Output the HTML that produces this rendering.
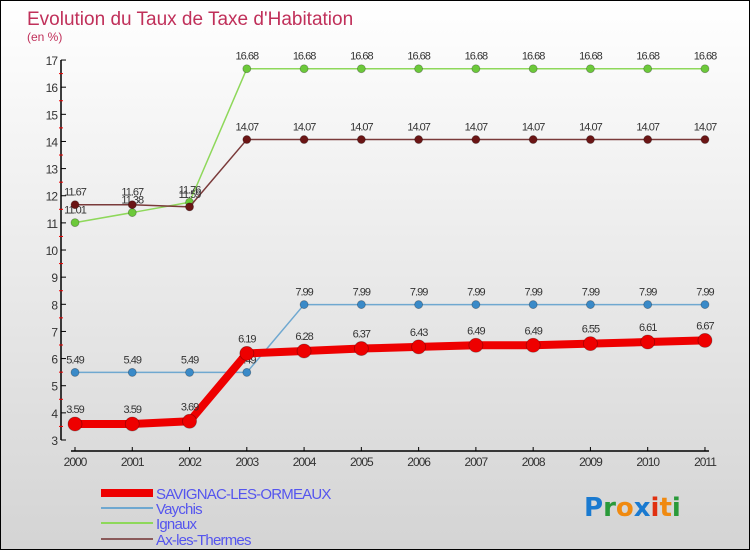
<!DOCTYPE html>
<html><head><meta charset="utf-8"><style>
html,body{margin:0;padding:0}
body{width:750px;height:550px;overflow:hidden;font-family:"Liberation Sans",sans-serif}
#wrap{position:relative;width:748px;height:548px;border:1px solid #000;background:linear-gradient(#ffffff,#d4d4d4)}
svg{position:absolute;left:0;top:0}
</style></head><body>
<div id="wrap">
<svg id="chart" width="748" height="548"></svg>
</div>
<script>
const years=["2000","2001","2002","2003","2004","2005","2006","2007","2008","2009","2010","2011"];
const savignac=[3.59,3.59,3.69,6.19,6.28,6.37,6.43,6.49,6.49,6.55,6.61,6.67];
const vaychis=[5.49,5.49,5.49,5.49,7.99,7.99,7.99,7.99,7.99,7.99,7.99,7.99];
const ignaux=[11.01,11.38,11.76,16.68,16.68,16.68,16.68,16.68,16.68,16.68,16.68,16.68];
const ax=[11.67,11.67,11.59,14.07,14.07,14.07,14.07,14.07,14.07,14.07,14.07,14.07];
const yTicks=[3,4,5,6,7,8,9,10,11,12,13,14,15,16,17];
const seriesNames=["SAVIGNAC-LES-ORMEAUX","Vaychis","Ignaux","Ax-les-Thermes"];

const NS="http://www.w3.org/2000/svg";
const svg=document.getElementById('chart');
const X=i=>74+i*57.27;
const Y=v=>439-(v-3)*27.14;
function mk(tag,attrs,parent){const e=document.createElementNS(NS,tag);for(const k in attrs)e.setAttribute(k,attrs[k]);(parent||svg).appendChild(e);return e;}
function txt(x,y,s,attrs){const t=mk('text',Object.assign({x:x,y:y},attrs));t.textContent=s;return t;}

let t=txt(26,24,"Evolution du Taux de Taxe d'Habitation",{fill:'#c0305a','font-size':19});

t=txt(26,40,"(en %)",{fill:'#c0305a','font-size':12});


// axes
let a=mk('line',{x1:60,y1:Y(17),x2:60,y2:Y(3),stroke:'#000','stroke-width':1.5});

a=mk('line',{x1:X(0)-4,y1:450,x2:X(11)+4,y2:450,stroke:'#000','stroke-width':1.5});

yTicks.forEach(v=>{
  mk('line',{x1:60,y1:Y(v),x2:65,y2:Y(v),stroke:'#000'});
  if(v<17) mk('line',{x1:58,y1:Y(v+0.5),x2:62,y2:Y(v+0.5),stroke:'#e00'});
  const l=txt(56,Y(v)+5,String(v),{fill:'#333','font-size':12,'text-anchor':'end','letter-spacing':-1});
  
});
years.forEach((y,i)=>{
  mk('line',{x1:X(i),y1:446,x2:X(i),y2:450,stroke:'#000'});
  const l=txt(X(i),465,y,{fill:'#333','font-size':12,'text-anchor':'middle','letter-spacing':-1});
  
});

function series(data,color,fill,w,r,name,labelOff){
  const g=mk('g',{});
  
  const p=mk('polyline',{points:data.map((v,i)=>X(i)+','+Y(v)).join(' '),fill:'none',stroke:color,'stroke-width':w,'stroke-linejoin':'round'},g);
  
  data.forEach((v,i)=>{
    const c=mk('circle',{cx:X(i),cy:Y(v),r:r,fill:fill,stroke:'rgba(0,0,0,0.3)','stroke-width':0.8},g);
    
    const l=txt(X(i),Y(v)-labelOff,String(v),{fill:'#333','font-size':11,'text-anchor':'middle','letter-spacing':-1},g);
    
  });
}
series(ignaux,'#8ed85a','#6cc93a',1.5,4,'ignaux',9);
series(ax,'#7a3a3a','#6b1515',1.5,4,'ax-les-thermes',9);
series(vaychis,'#6fa8d0','#3a8ac8',1.5,4,'vaychis',9);
series(savignac,'#ee0000','#ee0000',8,7,'savignac',11);

// legend
const lc=[['#ee0000',8],['#6fa8d0',2],['#8ed85a',2],['#8a5a5a',2]];
const ly=[492,507,522,538];
seriesNames.forEach((n,i)=>{
  const g=mk('g',{});
  
  mk('line',{x1:100,y1:ly[i],x2:152,y2:ly[i],stroke:lc[i][0],'stroke-width':lc[i][1]},g);
  txt(155,ly[i]+6,n,{fill:'#5555ee','font-size':15,'letter-spacing':-0.8},g);
});

// logo
const lg=mk('text',{x:583,y:515,'font-size':26,'font-weight':'bold','font-family':'"DejaVu Sans",sans-serif'});

[['P','#1a7ad0'],['r','#2a9a3a'],['o','#f08a10'],['x','#1a7ad0'],['i','#e03010'],['t','#f08a10'],['i','#2a9a3a']].forEach(([c,f])=>{
  const s=mk('tspan',{fill:f},lg);s.textContent=c;
});
</script>
</body></html>
